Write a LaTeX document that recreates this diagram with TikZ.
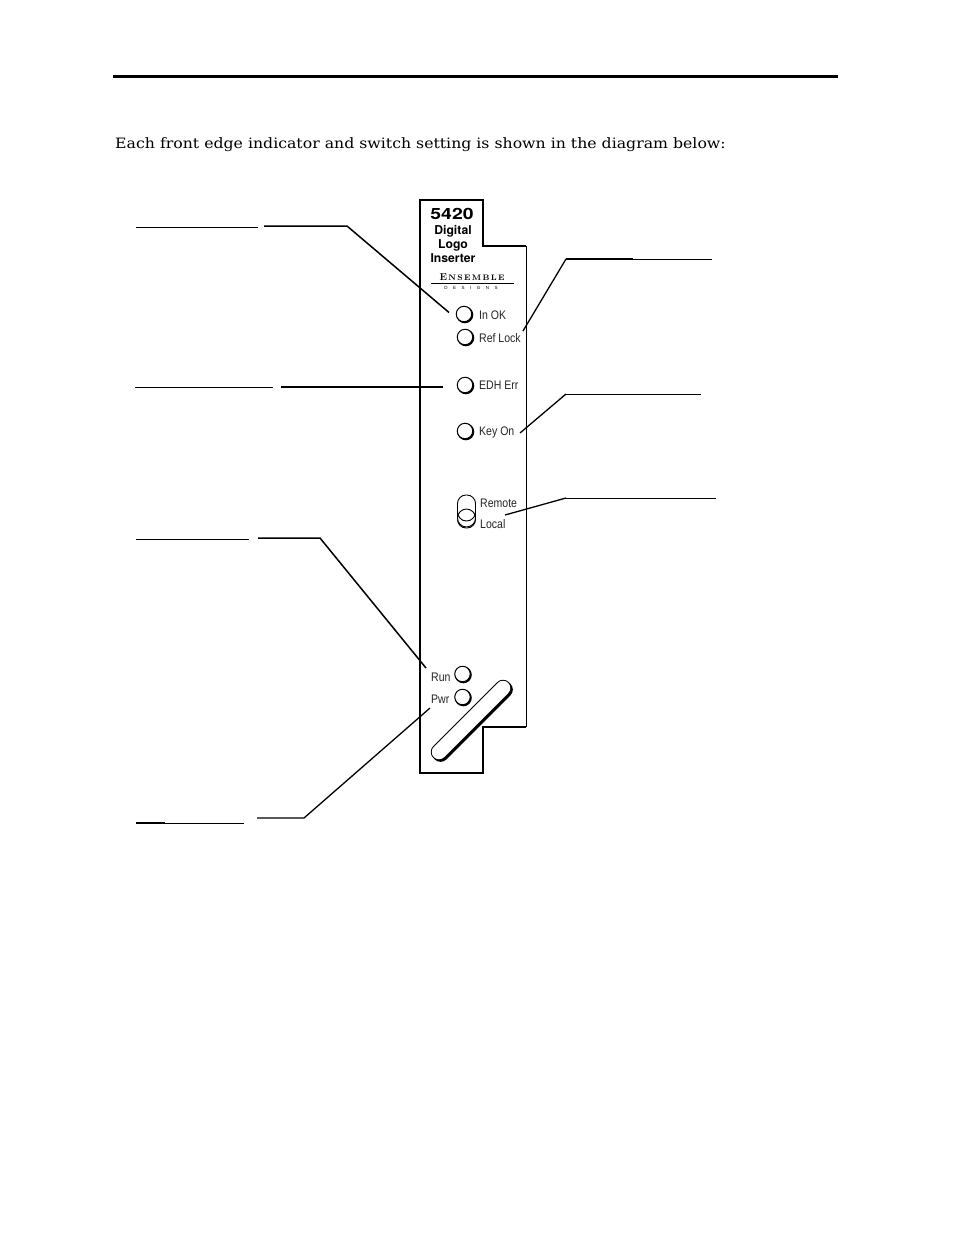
\documentclass[tikz,border=0pt]{standalone}
\usepackage{fontspec}
\setmainfont{DejaVu Serif}
\newfontfamily\panelfont{Liberation Sans}
\newfontfamily\headfont{TeX Gyre Heros}
\newfontfamily\logofont{Latin Modern Roman}
\tikzset{
  leader/.style={draw=black,line width=1.5pt,line join=miter},
  thinleader/.style={draw=black,line width=1.3pt,line join=miter},
  blank/.style={draw=black,line width=1pt},
  panelline/.style={draw=black,line width=2pt,line join=miter},
  ledface/.style={circle,draw=black,line width=1pt,fill=white,minimum size=15.5pt,inner sep=0pt},
  ledshade/.style={circle,fill=black,minimum size=17pt,inner sep=0pt},
  lab/.style={font=\panelfont\fontsize{12.4}{14}\selectfont,xscale=.85,anchor=west,inner sep=0pt,text=black!85},
  headtxt/.style={font=\headfont\bfseries\fontsize{12.2}{14}\selectfont,inner sep=0pt},
}
\newcommand{\ledat}[3]{%
  \node[ledshade] (#1s) at (#2+.8,#3+.8) {};
  \node[ledface] (#1) at (#2,#3) {};}
\begin{document}
\begin{tikzpicture}[x=1pt,y=-1pt]
\useasboundingbox[fill=white] (0,0) rectangle (954,1235);
% header
\draw[draw=black,line width=3pt] (113,76) coordinate (ra) -- (838,76) coordinate (rb);
\node[anchor=west,inner sep=0pt,xscale=1.1,font=\fontsize{14.3}{16}\selectfont] (intro) at (115,144.5)
  {Each front edge indicator and switch setting is shown in the diagram below:};
% panel
\draw[panelline] (420,200) -- (483,200) -- (483,246) -- (526,246);
\draw[draw=black,line width=1pt] (526,246) -- (526,727);
\draw[panelline] (526,727) -- (483,727) -- (483,773) -- (420,773) -- (420,200) -- (420.9,200);
% panel heading
\node[font=\headfont\bfseries\fontsize{15.5}{17}\selectfont,inner sep=0pt,xscale=1.25] (model) at (452,213.5) {5420};
\node[headtxt] (t1) at (453,231) {Digital};
\node[headtxt] (t2) at (453,245) {Logo};
\node[headtxt] (t3) at (453,258) {Inserter};
\node[font=\logofont\bfseries\fontsize{10}{10}\selectfont,inner sep=0pt] (ens) at (472,277) {E\fontsize{8}{8}\selectfont\,N\,S\,E\,M\,B\,L\,E};
\draw[draw=black,line width=.7pt] (431,283) coordinate (ua) -- (514,283) coordinate (ub);
\node[font=\panelfont\fontsize{4.5}{5}\selectfont,inner sep=0pt] (des) at (471,288) {D\hspace{5.5pt}E\hspace{5.5pt}S\hspace{5.5pt}I\hspace{5.5pt}G\hspace{5.5pt}N\hspace{5.5pt}S};
% indicators
\ledat{inok}{464}{314}
\ledat{ref}{465}{337}
\ledat{edh}{465}{385}
\ledat{key}{465}{431}
\node[lab] (linok) at (479,315) {In OK};
\node[lab] (lref) at (479,338) {Ref Lock};
\node[lab] (ledh) at (479,385) {EDH Err};
\node[lab] (lkey) at (479,432) {Key On};
% switch
\node[draw=black,line width=.9pt,rounded corners=8.5pt,minimum width=18pt,minimum height=33pt,inner sep=0pt] (sw) at (466.5,511.5) {};
\draw[draw=black,line width=.9pt,fill=white] (466.5,518) circle[radius=9];
\draw[draw=black,line width=.9pt] (457.5,512) arc[start angle=180,end angle=0,radius=9];
\draw[draw=black,line width=1.4pt] (475.5,510) -- (475.5,520);
\node[lab] (lrem) at (480,503) {Remote};
\node[lab] (lloc) at (480,524) {Local};
% lower LEDs
\ledat{run}{462.5}{674}
\ledat{pwr}{462.5}{697}
\node[lab] (lrun) at (431,677) {Run};
\node[lab] (lpwr) at (431,699) {Pwr};
% slot
\coordinate (sa) at (439,752);
\coordinate (sb) at (503,688);
\draw[draw=black,line cap=round,line width=16.5pt] ([shift={(1.6,1.6)}]sa) -- ([shift={(1.6,1.6)}]sb);
\draw[draw=black,line cap=round,line width=16.5pt] (sa) -- (sb);
\draw[draw=white,line cap=round,line width=14.5pt] (sa) -- (sb);
% blanks and leaders
\coordinate (b1a) at (136,227); \coordinate (b1b) at (258,227);
\coordinate (l1a) at (264,226); \coordinate (l1k) at (347,226); \coordinate (l1e) at (449,312.5);
\draw[blank] (b1a) -- (b1b);
\draw[leader] (l1a) -- (l1k) -- (l1e);
\coordinate (b2a) at (135,387); \coordinate (b2b) at (273,387);
\coordinate (l2a) at (281,387); \coordinate (l2e) at (443,387);
\draw[blank] (b2a) -- (b2b);
\draw[leader] (l2a) -- (l2e);
\coordinate (b3a) at (136,539); \coordinate (b3b) at (249,539);
\coordinate (l3a) at (258,538); \coordinate (l3k) at (320,538); \coordinate (l3e) at (426,668);
\draw[blank] (b3a) -- (b3b);
\draw[leader] (l3a) -- (l3k) -- (l3e);
\coordinate (b4a) at (136,823); \coordinate (b4m) at (165,823); \coordinate (b4b) at (244,823);
\coordinate (l4a) at (257,818); \coordinate (l4k) at (304,818); \coordinate (l4e) at (430,708);
\draw[blank] (b4a) -- (b4b);
\draw[draw=black,line width=2pt] (b4a) -- (b4m);
\draw[thinleader] (l4a) -- (l4k) -- (l4e);
\coordinate (r1k) at (566,259); \coordinate (r1m) at (633,259); \coordinate (r1b) at (712,259); \coordinate (r1e) at (523,331);
\draw[blank] (r1k) -- (r1b);
\draw[draw=black,line width=2pt] (r1k) -- (r1m);
\draw[thinleader] (r1k) -- (r1e);
\coordinate (r2k) at (566,394); \coordinate (r2b) at (701,394); \coordinate (r2e) at (520,433);
\draw[blank] (r2k) -- (r2b);
\draw[thinleader] (r2k) -- (r2e);
\coordinate (r3k) at (566,498); \coordinate (r3b) at (716,498); \coordinate (r3e) at (505,515);
\draw[blank] (r3k) -- (r3b);
\draw[thinleader] (r3k) -- (r3e);
\end{tikzpicture}
\end{document}
